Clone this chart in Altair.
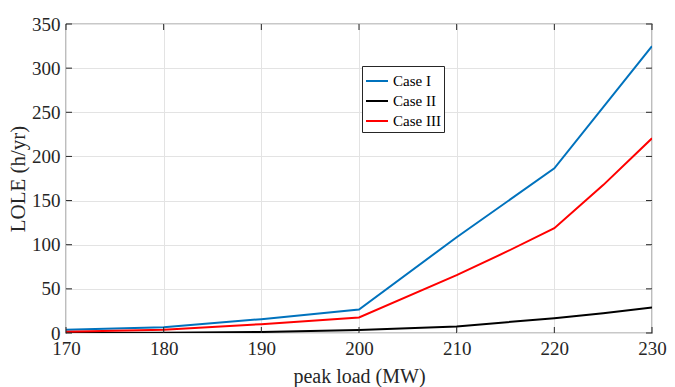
import altair as alt
import pandas as pd

loads_I = [170, 180, 190, 200, 210, 220, 230]
case_I = [3.7, 6.4, 15.7, 26.5, 108.5, 186.5, 324.8]
loads_II = [170, 180, 190, 200, 210, 220, 225, 230]
case_II = [0.1, 0.4, 1.1, 3.4, 7.5, 16.8, 22.5, 28.8]
loads_III = [170, 180, 190, 200, 210, 215, 220, 225, 230]
case_III = [1.5, 3.7, 10.0, 17.6, 65.5, 91.5, 118.7, 167.5, 220.5]
x_ticks = [170, 180, 190, 200, 210, 220, 230]
y_ticks = [0, 50, 100, 150, 200, 250, 300, 350]
series_names = ["Case I", "Case II", "Case III"]
series_colors = ["#0072BD", "#000000", "#FF0000"]

rows = []
for name, xs, ys in [("Case I", loads_I, case_I), ("Case II", loads_II, case_II), ("Case III", loads_III, case_III)]:
    for xv, yv in zip(xs, ys):
        rows.append({"load": xv, "lole": yv, "case": name})
df = pd.DataFrame(rows)

W, H = 586, 309
FONT = "Liberation Serif"

xscale = alt.Scale(domain=[170, 230], nice=False, zero=False)
yscale = alt.Scale(domain=[0, 350], nice=False)

common = dict(grid=True, ticks=False, domain=False, labelFlush=False,
              labelFont=FONT, labelFontSize=19, labelColor="#262626",
              titleFont=FONT, titleColor="#262626", titleFontWeight="normal",
              gridColor="#e3e3e3", gridWidth=1)
xaxis = alt.Axis(values=x_ticks, title="peak load (MW)", labelPadding=6, titlePadding=8,
                 titleFontSize=20, **common)
yaxis = alt.Axis(values=y_ticks, title="LOLE (h/yr)", labelPadding=6, titlePadding=3,
                 titleFontSize=21, **common)

lines = alt.Chart(df).mark_line(strokeWidth=2, clip=True).encode(
    x=alt.X("load:Q", scale=xscale, axis=xaxis),
    y=alt.Y("lole:Q", scale=yscale, axis=yaxis),
    color=alt.Color("case:N", scale=alt.Scale(domain=series_names, range=series_colors),
                    legend=alt.Legend(title=None, orient="none", legendX=296, legendY=42,
                                      symbolType="stroke", symbolStrokeWidth=2, symbolSize=484,
                                      labelFont=FONT, labelFontSize=15, labelColor="#000000",
                                      strokeColor="#262626", fillColor="#ffffff", padding=3,
                                      rowPadding=-1, labelOffset=4)),
)

xt = pd.DataFrame({"load": x_ticks})
yt = pd.DataFrame({"lole": y_ticks})
TL = 6
xb = alt.Chart(xt).mark_rule(color="#262626").encode(x=alt.X("load:Q", scale=xscale, axis=xaxis), y=alt.value(H), y2=alt.value(H - TL))
xtop = alt.Chart(xt).mark_rule(color="#262626").encode(x=alt.X("load:Q", scale=xscale, axis=xaxis), y=alt.value(0), y2=alt.value(TL))
yl = alt.Chart(yt).mark_rule(color="#262626").encode(y=alt.Y("lole:Q", scale=yscale, axis=yaxis), x=alt.value(0), x2=alt.value(TL))
yr = alt.Chart(yt).mark_rule(color="#262626").encode(y=alt.Y("lole:Q", scale=yscale, axis=yaxis), x=alt.value(W), x2=alt.value(W - TL))

chart = alt.layer(lines, xb, xtop, yl, yr).properties(
    width=W, height=H,
    autosize=alt.AutoSizeParams(type="none"),
    padding={"left": 58, "top": 16, "right": 15, "bottom": 54},
).configure(font=FONT).configure_view(stroke="#262626", strokeWidth=1.2).configure_axis(
    labelFont=FONT, titleFont=FONT)

chart.save("out.html", embed_options={"renderer": "svg", "actions": False})
